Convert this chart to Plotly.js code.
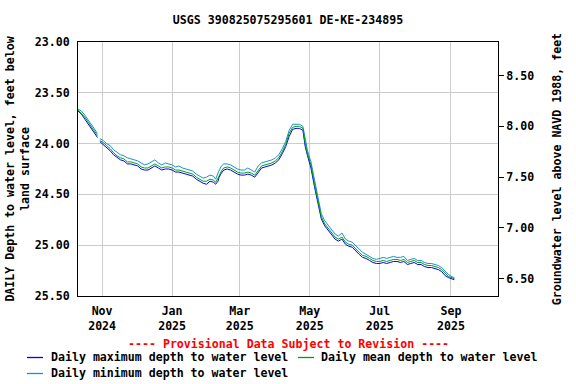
<!DOCTYPE html>
<html>
<head>
<meta charset="utf-8">
<script src="https://cdn.plot.ly/plotly-3.0.1.min.js"></script>
<style>
html,body{margin:0;padding:0;background:#fff;}
#chart{width:576px;height:384px;}
</style>
</head>
<body>
<div id="chart"></div>
<script>
// Dates of readings (approx. every 3 days)
const dates = [
"2024-10-11","2024-10-14","2024-10-17","2024-10-20","2024-10-23","2024-10-26","2024-10-28","2024-10-29","2024-10-30",
"2024-11-02","2024-11-05","2024-11-08","2024-11-11","2024-11-14","2024-11-17","2024-11-20","2024-11-23","2024-11-26","2024-11-29",
"2024-12-02","2024-12-05","2024-12-08","2024-12-11","2024-12-14","2024-12-17","2024-12-20","2024-12-23","2024-12-26","2024-12-29",
"2025-01-01","2025-01-04","2025-01-07","2025-01-10","2025-01-13","2025-01-16","2025-01-19","2025-01-22","2025-01-25","2025-01-28","2025-01-31",
"2025-02-03","2025-02-06","2025-02-08","2025-02-10","2025-02-11","2025-02-13","2025-02-15","2025-02-18","2025-02-21","2025-02-24","2025-02-27",
"2025-03-02","2025-03-05","2025-03-08","2025-03-11","2025-03-14","2025-03-17","2025-03-20","2025-03-23","2025-03-26","2025-03-29",
"2025-04-01","2025-04-04","2025-04-07","2025-04-10","2025-04-13","2025-04-16","2025-04-19","2025-04-22","2025-04-25","2025-04-27","2025-04-29",
"2025-05-02","2025-05-05","2025-05-08","2025-05-11","2025-05-14","2025-05-17","2025-05-20","2025-05-23","2025-05-26","2025-05-29",
"2025-06-01","2025-06-04","2025-06-07","2025-06-10","2025-06-13","2025-06-16","2025-06-19","2025-06-22","2025-06-25","2025-06-28",
"2025-07-01","2025-07-04","2025-07-07","2025-07-10","2025-07-13","2025-07-16","2025-07-19","2025-07-22","2025-07-25","2025-07-28","2025-07-31",
"2025-08-03","2025-08-06","2025-08-09","2025-08-12","2025-08-15","2025-08-18","2025-08-21","2025-08-24","2025-08-27","2025-08-30",
"2025-09-02","2025-09-04"
];

// Daily maximum depth to water level (ft below land surface)
const maxDepth = [
23.68,23.71,23.76,23.81,23.86,23.91,23.94,null,23.98,
24.01,24.04,24.07,24.11,24.14,24.16,24.17,24.20,24.20,24.21,
24.22,24.25,24.26,24.26,24.24,24.22,24.24,24.26,24.25,24.25,
24.26,24.28,24.28,24.29,24.30,24.31,24.32,24.35,24.37,24.39,24.40,
24.37,24.38,24.40,24.37,24.33,24.29,24.26,24.25,24.26,24.28,24.30,
24.31,24.31,24.30,24.31,24.33,24.28,24.24,24.23,24.22,24.21,
24.19,24.16,24.10,24.03,23.93,23.86,23.85,23.85,23.87,24.03,24.12,
24.24,24.42,24.60,24.74,24.81,24.85,24.90,24.94,24.96,24.94,
24.99,25.01,25.02,25.06,25.09,25.12,25.13,25.15,25.17,25.18,
25.18,25.17,25.18,25.17,25.16,25.16,25.17,25.16,25.19,25.18,25.17,
25.19,25.19,25.21,25.22,25.22,25.23,25.24,25.26,25.30,25.32,
25.33,25.34
];

// Daily mean depth to water level
const meanDepth = [
23.67,23.70,23.74,23.79,23.84,23.89,23.92,null,23.97,
23.99,24.02,24.05,24.09,24.12,24.14,24.15,24.18,24.18,24.19,
24.20,24.23,24.24,24.24,24.22,24.20,24.22,24.24,24.23,24.23,
24.24,24.26,24.26,24.27,24.28,24.29,24.30,24.33,24.35,24.37,24.37,
24.35,24.36,24.38,24.34,24.31,24.27,24.24,24.23,24.24,24.26,24.28,
24.29,24.29,24.28,24.29,24.31,24.26,24.22,24.21,24.20,24.19,
24.17,24.14,24.08,24.01,23.90,23.84,23.83,23.83,23.85,24.00,24.10,
24.21,24.39,24.57,24.72,24.79,24.83,24.88,24.92,24.94,24.92,
24.97,24.99,25.00,25.04,25.07,25.10,25.11,25.13,25.15,25.16,
25.16,25.15,25.16,25.15,25.14,25.14,25.15,25.14,25.17,25.16,25.15,
25.17,25.17,25.19,25.20,25.20,25.21,25.22,25.24,25.28,25.31,
25.32,25.33
];

// Daily minimum depth to water level
const minDepth = [
23.66,23.68,23.72,23.77,23.82,23.87,23.90,null,23.95,
23.97,24.00,24.02,24.06,24.09,24.11,24.12,24.14,24.15,24.16,
24.17,24.19,24.21,24.20,24.18,24.16,24.19,24.21,24.19,24.20,
24.21,24.23,24.22,24.24,24.25,24.26,24.27,24.30,24.32,24.34,24.33,
24.31,24.32,24.35,24.29,24.26,24.22,24.20,24.20,24.21,24.23,24.25,
24.26,24.26,24.24,24.26,24.28,24.22,24.19,24.18,24.17,24.16,
24.14,24.11,24.05,23.98,23.87,23.81,23.81,23.81,23.83,23.97,24.07,
24.18,24.35,24.53,24.69,24.76,24.80,24.85,24.89,24.91,24.88,
24.94,24.96,24.97,25.01,25.04,25.07,25.09,25.11,25.13,25.14,
25.13,25.12,25.13,25.12,25.11,25.12,25.12,25.11,25.15,25.14,25.13,
25.15,25.15,25.17,25.18,25.18,25.19,25.20,25.22,25.26,25.29,
25.31,25.32
];

// Series names and colours (legend)
const seriesNames = ["Daily maximum depth to water level", "Daily mean depth to water level", "Daily minimum depth to water level"];
const seriesColors = ["#0000ff", "#00a000", "#1a8fd6"];

// Land-surface datum (ft above NAVD 1988) linking the two axes
const landSurface = 31.83;
const depthRange = [25.5, 23.0];
const xRange = ["2024-10-11", "2025-10-12"];

const FONT = "DejaVu Sans Mono, Liberation Mono, monospace";
const FS = 11.6;
const elev = meanDepth.map(v => v === null ? null : +(landSurface - v).toFixed(2));

const traces = [
  {x: dates, y: maxDepth, name: seriesNames[0], type: "scatter", mode: "lines",
   line: {color: seriesColors[0], width: 1}, connectgaps: false},
  {x: dates, y: minDepth, name: seriesNames[2], type: "scatter", mode: "lines",
   line: {color: seriesColors[2], width: 1}, connectgaps: false},
  {x: dates, y: meanDepth, name: seriesNames[1], type: "scatter", mode: "lines",
   line: {color: seriesColors[1], width: 1}, connectgaps: false},
  {x: dates, y: elev, yaxis: "y2", type: "scatter", mode: "lines", showlegend: false,
   hoverinfo: "skip", line: {color: "rgba(0,0,0,0)", width: 0}}
];

// Legend drawn below the plot (pixel positions converted to paper coordinates)
const plotL = 78, plotW = 420, plotB = 296, plotH = 254;
const px = v => (v - plotL) / plotW;
const py = v => (plotB - v) / plotH;
const legendItems = [
  {lx: 27, tx: 50, y: 357},
  {lx: 298, tx: 320, y: 357},
  {lx: 27, tx: 50, y: 373}
];
const shapes = [], annotations = [];
legendItems.forEach((it, i) => {
  shapes.push({type: "line", xref: "paper", yref: "paper", x0: px(it.lx), x1: px(it.lx + 16),
               y0: py(it.y + 0.5), y1: py(it.y + 0.5), line: {color: seriesColors[i], width: 1.3}});
  annotations.push({text: seriesNames[i], xref: "paper", yref: "paper", x: px(it.tx), y: py(it.y),
                    xanchor: "left", yanchor: "middle", showarrow: false, borderpad: 0,
                    font: {family: FONT, size: FS, color: "#000", weight: "bold"}});
});
annotations.push({text: "---- Provisional Data Subject to Revision ----", xref: "paper", yref: "paper",
  x: 0.5, y: py(344), xanchor: "center", yanchor: "middle", showarrow: false,
  font: {family: FONT, size: FS, color: "#ff0000", weight: "bold"}});

const layout = {
  width: 576, height: 384,
  margin: {l: 78, r: 78, t: 42, b: 88},
  paper_bgcolor: "#fff", plot_bgcolor: "#fff",
  font: {family: FONT, size: FS, color: "#000", weight: "bold"},
  title: {text: "USGS 390825075295601 DE-KE-234895", x: 0.5, xanchor: "center",
          y: 1 - 20/384, yanchor: "middle", yref: "container",
          font: {family: FONT, size: FS, color: "#000", weight: "bold"}},
  showlegend: false,
  xaxis: {type: "date", range: xRange, tick0: "2024-11-01", dtick: "M2", tickformat: "%b<br>%Y",
          showgrid: true, gridcolor: "#cccccc", gridwidth: 1, ticks: "", ticklabelstandoff: 4,
          showline: true, linecolor: "#000", linewidth: 1, mirror: true, zeroline: false},
  yaxis: {range: depthRange, tick0: 23, dtick: 0.5, tickformat: ".2f", showgrid: true, gridcolor: "#cccccc",
          ticks: "", ticklabelstandoff: 5, showline: true, linecolor: "#000", linewidth: 1, mirror: true,
          zeroline: false,
          title: {text: "DAILY Depth to water level, feet below<br>land surface", standoff: 2,
                  font: {family: FONT, size: FS, color: "#000", weight: "bold"}}},
  yaxis2: {overlaying: "y", side: "right", anchor: "x",
           range: [landSurface - depthRange[0], landSurface - depthRange[1]],
           tick0: 6.5, dtick: 0.5, tickformat: ".2f", showgrid: false, zeroline: false,
           ticks: "outside", ticklen: 5, tickcolor: "#000", showline: true, linecolor: "#000", linewidth: 1,
           title: {text: "Groundwater level above NAVD 1988, feet", standoff: 19,
                   font: {family: FONT, size: FS, color: "#000", weight: "bold"}}},
  shapes: shapes,
  annotations: annotations
};

Plotly.newPlot("chart", traces, layout, {displayModeBar: false, staticPlot: true});
</script>
</body>
</html>
